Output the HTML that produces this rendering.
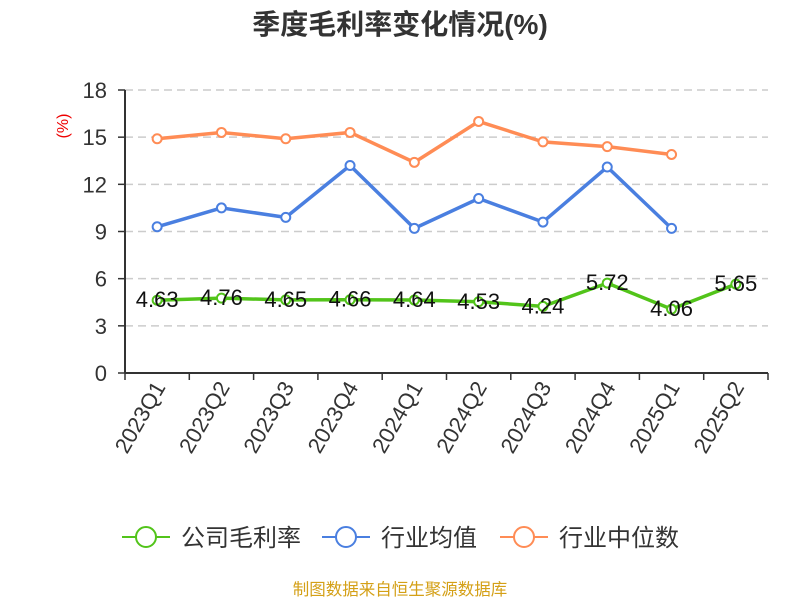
<!DOCTYPE html>
<html><head><meta charset="utf-8"><style>
body{margin:0;background:#fff;}
svg{font-family:"Liberation Sans","Noto Sans CJK SC",sans-serif;}
</style></head><body>
<svg id="chart" width="800" height="600">
<text x="400" y="34" text-anchor="middle" font-size="28" font-weight="bold" fill="#333">季度毛利率变化情况(%)</text>
<text x="68" y="126" text-anchor="middle" font-size="16" fill="#e00" transform="rotate(-90 68 126)">(%)</text>
<g id="grid"></g><g id="axes"></g><g id="series"></g>
<g>
<g><line x1="122" y1="537" x2="170" y2="537" stroke="#52c41a" stroke-width="2"/><circle cx="146" cy="537" r="10" fill="#fff" stroke="#52c41a" stroke-width="2"/><text x="181" y="546" font-size="24" fill="#333">公司毛利率</text></g>
<g><line x1="322" y1="537" x2="370" y2="537" stroke="#4a7fe0" stroke-width="2"/><circle cx="346" cy="537" r="10" fill="#fff" stroke="#4a7fe0" stroke-width="2"/><text x="381" y="546" font-size="24" fill="#333">行业均值</text></g>
<g><line x1="500" y1="537" x2="548" y2="537" stroke="#ff8c55" stroke-width="2"/><circle cx="524" cy="537" r="10" fill="#fff" stroke="#ff8c55" stroke-width="2"/><text x="559" y="546" font-size="24" fill="#333">行业中位数</text></g>
</g>
<text x="400" y="595" text-anchor="middle" font-size="16.5" fill="#d4a017">制图数据来自恒生聚源数据库</text>
</svg>
<script>
const categories=["2023Q1","2023Q2","2023Q3","2023Q4","2024Q1","2024Q2","2024Q3","2024Q4","2025Q1","2025Q2"];
const companyValues=[4.63,4.76,4.65,4.66,4.64,4.53,4.24,5.72,4.06,5.65];
const industryAvg=[9.3,10.5,9.9,13.2,9.2,11.1,9.6,13.1,9.2];
const industryMedian=[14.9,15.3,14.9,15.3,13.4,16.0,14.7,14.4,13.9];
const yTicks=[0,3,6,9,12,15,18];
const NS="http://www.w3.org/2000/svg";
const x0=125,x1=768,y0=373,y1=90,yMax=18;
const bw=(x1-x0)/categories.length;
const xs=i=>x0+bw*(i+0.5);
const ys=v=>y0-(v/yMax)*(y0-y1);
function mk(t,a,p){const e=document.createElementNS(NS,t);for(const k in a)e.setAttribute(k,a[k]);p.appendChild(e);return e;}
const grid=document.getElementById('grid'),axes=document.getElementById('axes'),series=document.getElementById('series');
yTicks.forEach(v=>{
 if(v>0){const g=mk('line',{x1:x0,x2:x1,y1:ys(v),y2:ys(v),stroke:'#ccc','stroke-dasharray':'8,5','stroke-width':1.5},grid);
 
 }
 const tk=mk('line',{x1:x0-7,x2:x0,y1:ys(v),y2:ys(v),stroke:'#333','stroke-width':1.5},axes);
 
 
 const t=mk('text',{x:x0-18,y:ys(v)+8,'text-anchor':'end','font-size':22,fill:'#333'},axes);t.textContent=v;
 
 
});
const ya=mk('line',{x1:x0,x2:x0,y1:y1,y2:y0,stroke:'#333','stroke-width':2},axes);


const xa=mk('line',{x1:x0,x2:x1,y1:y0,y2:y0,stroke:'#333','stroke-width':2},axes);


for(let i=0;i<=categories.length;i++){const tk=mk('line',{x1:x0+bw*i,x2:x0+bw*i,y1:y0,y2:y0+7,stroke:'#333','stroke-width':1.5},axes);
 
 }
categories.forEach((c,i)=>{const x=xs(i)+9,y=y0+14;
 const t=mk('text',{x:x,y:y,'text-anchor':'end','font-size':22,fill:'#333',transform:`rotate(-60 ${x} ${y})`},axes);t.textContent=c;
 
 });
function draw(vals,color,name,labels){
 const pts=vals.map((v,i)=>xs(i)+','+ys(v)).join(' ');
 const l=mk('polyline',{points:pts,fill:'none',stroke:color,'stroke-width':3.5},series);
 
 
 vals.forEach((v,i)=>{const c=mk('circle',{cx:xs(i),cy:ys(v),r:4.5,fill:'#fff',stroke:color,'stroke-width':2},series);
  
  });
 if(labels)vals.forEach((v,i)=>{const t=mk('text',{x:xs(i),y:ys(v)+7,'text-anchor':'middle','font-size':22,fill:'#111'},series);t.textContent=v.toFixed(2);
  
  });
}
draw(industryMedian,'#ff8c55','industry-median',false);
draw(industryAvg,'#4a7fe0','industry-avg',false);
draw(companyValues,'#52c41a','company',true);
</script>
</body></html>
